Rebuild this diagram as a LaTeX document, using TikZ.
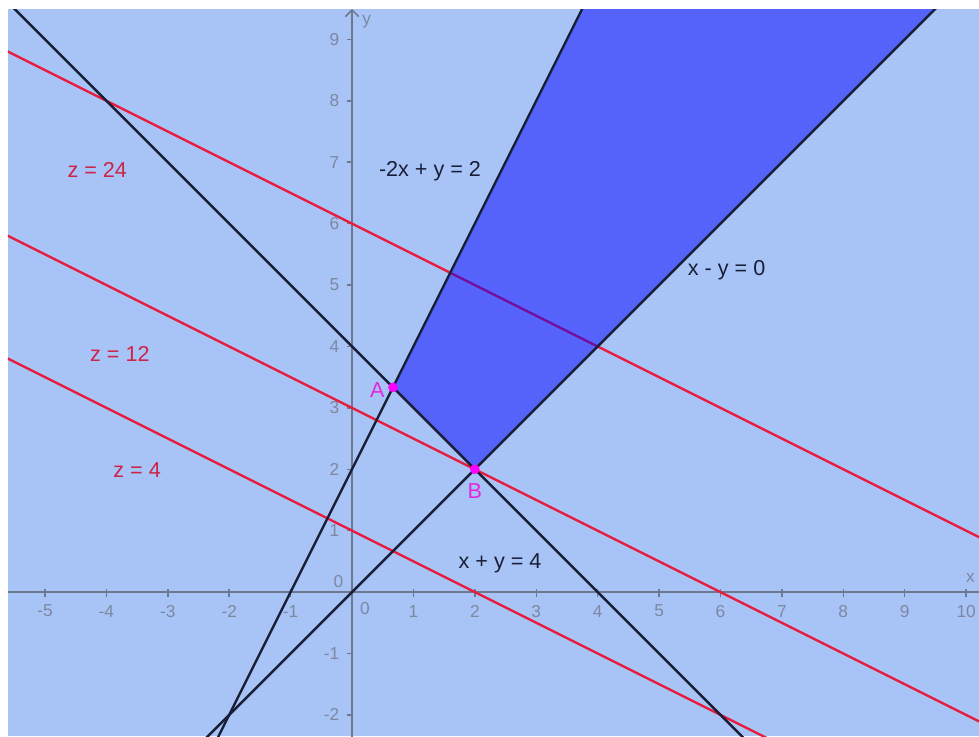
\documentclass[tikz,border=0pt]{standalone}
\usepackage{fontspec}
\setmainfont{Liberation Sans}
\definecolor{bgblue}{RGB}{168,196,247}
\definecolor{regblue}{RGB}{0,0,255}
\definecolor{lineblack}{RGB}{25,30,55}
\definecolor{zred}{RGB}{232,28,60}
\definecolor{zlab}{RGB}{205,35,70}
\definecolor{axisgray}{RGB}{110,120,145}
\definecolor{tickgray}{RGB}{125,135,160}
\definecolor{ptmag}{RGB}{255,0,255}
\definecolor{labmag}{RGB}{225,40,225}
\begin{document}
\begin{tikzpicture}[x=1cm,y=1cm,
  lab/.style={inner sep=0pt,font=\fontsize{10}{12}\selectfont},
  ticklab/.style={inner sep=0pt,text=tickgray,font=\fontsize{8}{10}\selectfont},
  axisline/.style={draw=axisgray,line width=0.7pt},
  blackline/.style={draw=lineblack,line width=1.1pt},
  redline/.style={draw=zred,line width=1.1pt},
  region/.style={fill=regblue,fill opacity=0.49},
  pt/.style={circle,fill=ptmag,inner sep=0pt,minimum size=4.5pt}]
\useasboundingbox (-5.733,-2.345) rectangle (10.21,9.642);
\fill[white] (-5.733,-2.345) rectangle (10.21,9.642);
\fill[bgblue] (-5.603,-2.345) rectangle (10.21,9.495);
\begin{scope}
\clip (-5.603,-2.345) rectangle (10.21,9.495);
% axes
\draw[axisline] (-5.7,0) -- (10.3,0);
\draw[axisline] (0,-2.4) -- (0,9.48);
\draw[axisline] (-0.11,9.37) -- (0,9.48) -- (0.11,9.37);
\foreach \x in {-5,-4,-3,-2,-1,1,2,3,4,5,6,7,8,9,10} {
  \draw[axisline] (\x,0.05) -- (\x,-0.08);
  \node[ticklab] (tx\x) at (\x,-0.31) {\x};
}
\foreach \y in {-2,-1,1,2,3,4,5,6,7,8,9} {
  \draw[axisline] (0,\y) -- (-0.08,\y);
  \node[ticklab,anchor=east] (ty\y) at (-0.2,\y) {\y};
}
\node[ticklab] (ty0) at (-0.22,0.17) {0};
\node[ticklab] (tx0) at (0.21,-0.27) {0};
\node[ticklab] (xlab) at (10.07,0.23) {x};
\node[ticklab] (ylab) at (0.24,9.28) {y};
% level lines z = 2x + 4y
\draw[redline] (-6,9) -- (11,0.5);
\draw[redline] (-6,6) -- (11,-2.5);
\draw[redline] (-6,4) -- (11,-4.5);
% feasible region
\fill[region] (2/3,10/3) -- (2,2) -- (9.495,9.495) -- (3.7475,9.495) -- cycle;
% constraint lines
\draw[blackline] (-6,10) -- (11,-7);
\draw[blackline] (-3,-3) -- (11,11);
\draw[blackline] (-3,-4) -- (5,12);
\end{scope}
% points
\node[pt] (A) at (2/3,10/3) {};
\node[pt] (B) at (2,2) {};
\node[lab,text=labmag] (Alab) at (0.41,3.29) {A};
\node[lab,text=labmag] (Blab) at (2.0,1.645) {B};
% labels
\node[lab,text=zlab] (z24) at (-4.15,6.87) {z = 24};
\node[lab,text=zlab] (z12) at (-3.78,3.87) {z = 12};
\node[lab,text=zlab] (z4) at (-3.50,1.99) {z = 4};
\node[lab,text=lineblack] (c1) at (1.27,6.85) {-2x + y = 2};
\node[lab,text=lineblack] (c2) at (6.10,5.24) {x - y = 0};
\node[lab,text=lineblack] (c3) at (2.41,0.47) {x + y = 4};
\end{tikzpicture}
\end{document}
